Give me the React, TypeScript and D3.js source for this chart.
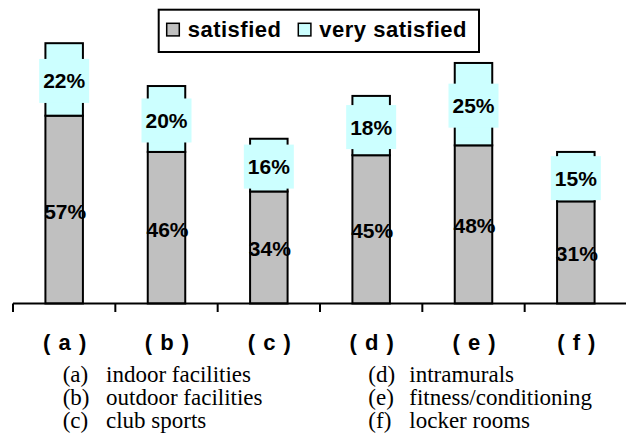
import React from "react";
import * as d3 from "d3";

const categories = ["a", "b", "c", "d", "e", "f"];
const satisfied = [57, 46, 34, 45, 48, 31];
const verySatisfied = [22, 20, 16, 18, 25, 15];
const descriptions = [
  "indoor facilities",
  "outdoor facilities",
  "club sports",
  "intramurals",
  "fitness/conditioning",
  "locker rooms",
];
const seriesNames = ["satisfied", "very satisfied"];

const W = 626;
const H = 445;
const GRAY = "#c0c0c0";
const CYAN = "#ccffff";
const SANS = "'Liberation Sans', Arial, Helvetica, sans-serif";
const SERIF = "'Liberation Serif', 'Times New Roman', serif";

export default function App() {
  // band scale for the categories, ticks sit on band boundaries
  const x = d3.scaleBand().domain(categories).range([13, 627]).padding(0);
  const y = d3.scaleLinear().domain([0, 100]).range([303.5, -26]);
  const barW = 37.5;

  const rows = categories.map((c, i) => ({
    c,
    s: satisfied[i],
    v: verySatisfied[i],
    cx: (x(c) as number) + x.bandwidth() / 2,
  }));

  return (
    <div style={{ position: "fixed", left: 0, top: 0 }}>
      <svg width={W} height={H} style={{ display: "block", background: "#fff" }}>
        {/* bars */}
        {rows.map((d) => (
          <g key={d.c}>
            <rect
              x={d.cx - barW / 2}
              y={y(d.s)}
              width={barW}
              height={y(0) - y(d.s)}
              fill={GRAY}
              stroke="#000"
              strokeWidth={2}
            />
            <rect
              x={d.cx - barW / 2}
              y={y(d.s + d.v)}
              width={barW}
              height={y(d.s) - y(d.s + d.v)}
              fill={CYAN}
              stroke="#000"
              strokeWidth={2}
            />
          </g>
        ))}

        {/* value labels */}
        {rows.map((d) => {
          const midS = (y(0) + y(d.s)) / 2;
          const midV = (y(d.s) + y(d.s + d.v)) / 2;
          return (
            <g key={"l" + d.c} fontFamily={SANS} fontWeight="bold" fontSize={21} textAnchor="middle">
              <rect x={d.cx - 25} y={midV + 1.5 - 22} width={50} height={44} fill={CYAN} />
              <text x={d.cx} y={midV + 9}>{d.v}%</text>
              <text x={d.cx + 1} y={midS + 9}>{d.s}%</text>
            </g>
          );
        })}

        {/* axis */}
        <line x1={13} x2={W} y1={y(0)} y2={y(0)} stroke="#000" strokeWidth={2} />
        {categories.map((c) => (
          <line
            key={"t" + c}
            x1={x(c) as number}
            x2={x(c) as number}
            y1={y(0)}
            y2={y(0) + 8.5}
            stroke="#000"
            strokeWidth={2}
          />
        ))}
        {rows.map((d) => (
          <text
            key={"c" + d.c}
            x={d.cx + 1}
            y={350}
            textAnchor="middle"
            fontFamily={SANS}
            fontWeight="bold"
            fontSize={22}
            letterSpacing={1}
          >
            {`( ${d.c} )`}
          </text>
        ))}

        {/* legend */}
        <rect x={158.7} y={9.7} width={320.3} height={42.3} fill="#fff" stroke="#000" strokeWidth={2} />
        {seriesNames.map((n, i) => {
          const lx = i === 0 ? 166.7 : 298.3;
          return (
            <g key={n}>
              <rect x={lx} y={23.3} width={12.6} height={12.6} fill={i === 0 ? GRAY : CYAN} stroke="#000" strokeWidth={1.5} />
              <text
                x={lx + 21}
                y={36.7}
                fontFamily={SANS}
                fontWeight="bold"
                fontSize={22}
                letterSpacing={0.5}
              >
                {n}
              </text>
            </g>
          );
        })}

        {/* description key */}
        {descriptions.map((t, i) => {
          const col = i < 3 ? 0 : 1;
          const row = i % 3;
          const lx = col === 0 ? 62.7 : 368.3;
          const tx = col === 0 ? 106 : 409.3;
          const by = 382 + row * 23;
          return (
            <g key={"d" + i} fontFamily={SERIF} fontSize={23}>
              <text x={lx} y={by}>({categories[i]})</text>
              <text x={tx} y={by}>{t}</text>
            </g>
          );
        })}
      </svg>
    </div>
  );
}
